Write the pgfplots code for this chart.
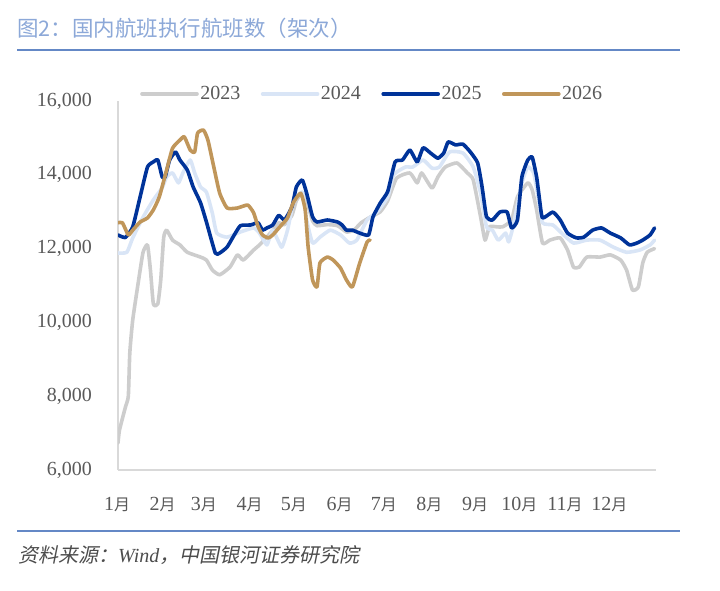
\documentclass[border=0pt]{standalone}
\usepackage{pgfplots}
\pgfplotsset{compat=1.18}
\usepackage{fontspec}
\setmainfont{Liberation Serif}
\newfontfamily\cjk{Noto Sans CJK SC}
\newfontfamily\cjksmall[Scale=0.8]{Noto Sans CJK SC}
\newfontfamily\cjksl[FakeSlant=0.2]{Noto Sans CJK SC}
\definecolor{cA}{RGB}{205,205,205}
\definecolor{cB}{RGB}{217,229,246}
\definecolor{cC}{RGB}{0,51,153}
\definecolor{cD}{RGB}{192,150,90}
\definecolor{titlecol}{RGB}{140,168,216}
\definecolor{rulecol}{RGB}{100,136,198}
\definecolor{txt}{RGB}{89,89,89}
\definecolor{axcol}{RGB}{217,217,217}
\begin{document}
\begin{tikzpicture}[x=1bp,y=1bp]
\path[use as bounding box] (0,0) rectangle (720,591);
\begin{axis}[
  at={(118bp,121bp)}, anchor=south west,
  width=538bp, height=369bp, scale only axis,
  xmin=0, xmax=365, ymin=6000, ymax=16000,
  axis x line=bottom, axis y line=left,
  axis line style={draw=axcol, line width=1.3bp, -},
  major tick length=0pt,
  scaled y ticks=false,
  ytick={6000,8000,10000,12000,14000,16000},
  /pgf/number format/.cd, fixed, 1000 sep={,}, assume math mode=true, /pgfplots/.cd,
  xtick={0,31,59,90,120,151,181,212,243,273,304,334},
  xticklabels={1{\cjksmall 月},2{\cjksmall 月},3{\cjksmall 月},4{\cjksmall 月},5{\cjksmall 月},6{\cjksmall 月},7{\cjksmall 月},8{\cjksmall 月},9{\cjksmall 月},10{\cjksmall 月},11{\cjksmall 月},12{\cjksmall 月}},
  tick label style={font=\fontsize{20bp}{24bp}\selectfont, text=txt},
  yticklabel style={anchor=east, inner sep=0pt, xshift=-26bp},
  xticklabel style={anchor=center, inner sep=0pt, yshift=-35bp, xshift=-1bp},
  legend columns=4,
  legend style={at={(rel axis cs:0,1)}, anchor=west, xshift=22bp, yshift=7bp,
    draw=none, fill=none, inner sep=0pt,
    font=\fontsize{20bp}{24bp}\selectfont, text=txt,
    nodes={inner sep=1.5bp},
    /tikz/every even column/.append style={column sep=19bp}},
  legend image code/.code={\draw[#1] (0bp,0bp) -- (55bp,0bp);},
  every axis plot/.append style={line width=3.6bp, line join=round, line cap=round, smooth, tension=0.3},
]
% 2023
\addplot[cA] coordinates {
(0,6730) (1,7080) (5,7700) (7,8000) (8,9170) (10,10070) (14,11150) (17,11900) (20,12100)
(22,11420) (24,10500) (27,10500) (29,11150) (31,12300) (33,12500) (37,12230) (42,12100)
(47,11900) (56,11770) (60,11690) (64,11420) (69,11290) (76,11500) (81,11830) (85,11690)
(92,11960) (96,12100) (101,12310) (105,12500) (109,12700) (113,12650) (118,12900)
(121,13300) (125,13500) (128,13300) (132,12750) (135,12620) (142,12650) (149,12620)
(155,12450) (160,12500) (165,12700)
(171,12850) (178,13000) (183,13300) (189,13910)
(198,14050) (203,13780) (206,14050) (213,13640) (217,13940) (222,14210) (230,14320)
(237,14050) (241,13860) (246,12860) (249,12230) (252,12590) (257,12590) (261,12590)
(267,12775) (271,13400) (278,13780) (281,13590) (284,13050) (288,12150) (293,12230)
(300,12290) (305,11960) (309,11500) (313,11500) (318,11770) (327,11770) (334,11830)
(341,11690) (345,11420) (349,10880) (353,10960) (356,11610) (359,11900) (364,12000)
};
\addlegendentry{2023}
% 2024
\addplot[cB] coordinates {
(0,11880) (6,11900) (10,12290) (17,12850) (24,13320) (30,13650) (33,13940) (37,14050)
(41,13780) (44,14050) (49,14400) (52,14050) (56,13670) (60,13530) (64,12960) (67,12420)
(74,12310) (83,12450) (92,12560) (96,12420) (101,12100) (105,12500) (111,12040)
(115,12500) (119,13240) (125,13530) (128,12775) (132,12150) (137,12310) (144,12500)
(151,12370) (157,12150) (162,12230) (169,12775) (176,13000) (183,13400) (187,14000)
(195,14210) (200,14210) (207,14400) (213,14180) (218,14210) (225,14620) (234,14590)
(241,14210) (246,13500) (250,12590) (254,12500) (258,12230) (263,12420) (265,12180)
(268,12590) (274,13780) (278,14210) (282,14050) (285,13400) (288,12700) (295,12640)
(301,12420) (309,12150) (318,12230) (327,12230) (336,12040) (345,11900) (354,11960)
(361,12100) (364,12230)
};
\addlegendentry{2024}
% 2025
\addplot[cC] coordinates {
(0,12370) (5,12300) (10,12590) (15,13400) (20,14210) (24,14350) (27,14400) (30,13940)
(32,13940) (35,14400) (39,14620) (42,14400) (47,14130) (51,13670) (56,13240) (60,12720)
(66,11880) (69,11880) (74,12040) (78,12310) (83,12620) (90,12640) (95,12700) (98,12500)
(101,12560) (105,12640) (109,12900) (113,12780) (118,13130) (121,13670) (125,13860)
(128,13500) (132,12860) (135,12720) (142,12775) (149,12720) (152,12640) (155,12500)
(159,12500) (164,12420) (170,12370) (173,12860) (178,13240) (183,13550) (188,14350)
(193,14400) (198,14670) (203,14350) (207,14730) (212,14590) (217,14450) (221,14590)
(224,14890) (229,14810) (234,14830) (239,14620) (244,14320) (247,13670) (250,12860)
(254,12775) (259,12990) (264,12990) (267,12560) (271,12775) (274,13940) (278,14400)
(281,14480) (284,13940) (286,13320) (288,12830) (295,12990) (300,12775) (305,12420)
(311,12290) (316,12310) (322,12500) (328,12560) (334,12420) (341,12290) (347,12100)
(352,12150) (356,12230) (361,12370) (364,12560)
};
\addlegendentry{2025}
% 2026
\addplot[cD] coordinates {
(0,12700) (3,12700) (7,12370) (10,12500) (15,12720) (20,12830) (24,13050) (28,13400)
(33,14130) (37,14720) (42,14940) (45,15030) (49,14670) (52,14620) (54,15130) (58,15210)
(61,14940) (65,14210) (69,13500) (74,13100) (81,13100) (88,13180) (92,12970) (95,12600)
(98,12370) (102,12290) (105,12370) (110,12600) (115,12830) (119,13250) (124,13500)
(127,13050) (129,12040) (132,11150) (135,10960) (137,11610) (142,11770) (146,11690)
(151,11470) (155,11150) (159,10960) (164,11610) (169,12180) (171,12230)
};
\addlegendentry{2026}
\end{axis}
\node[anchor=west, inner sep=0pt, text=titlecol, font=\cjk\fontsize{21.5bp}{26bp}\selectfont] at (17,563) {图2：国内航班执行航班数（架次）};
\draw[rulecol, line width=1.6bp] (17,541) -- (680,541);
\draw[rulecol, line width=1.6bp] (17,60) -- (680,60);
\node[anchor=west, inner sep=0pt, text=txt!85!black, font=\fontsize{20bp}{24bp}\selectfont] at (18,36) {{\cjksl 资料来源：}\textit{Wind}{\cjksl ，中国银河证券研究院}};
\end{tikzpicture}
\end{document}
